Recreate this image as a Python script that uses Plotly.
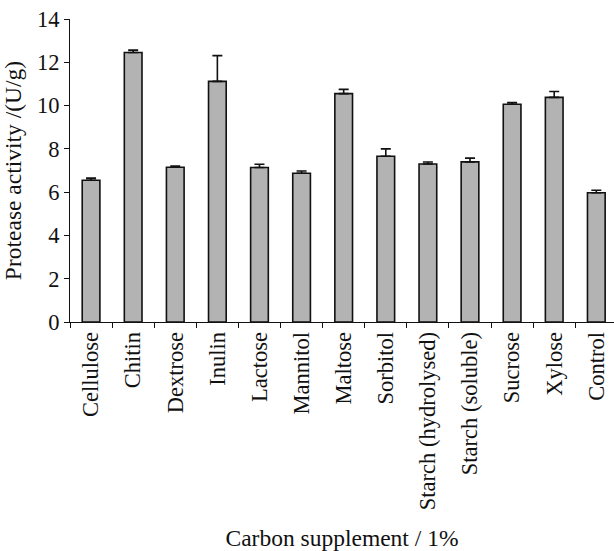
import plotly.graph_objects as go

# Carbon sources tested and mean protease activity (U/g) with upper error
carbon_sources = [
    "Cellulose", "Chitin", "Dextrose", "Inulin", "Lactose", "Mannitol",
    "Maltose", "Sorbitol", "Starch (hydrolysed)", "Starch (soluble)",
    "Sucrose", "Xylose", "Control",
]
activity = [6.55, 12.45, 7.15, 11.12, 7.14, 6.87, 10.55, 7.66, 7.30, 7.40, 10.06, 10.38, 5.97]
error_up = [0.10, 0.11, 0.05, 1.19, 0.15, 0.11, 0.20, 0.34, 0.09, 0.17, 0.08, 0.27, 0.12]

y_ticks = [0, 2, 4, 6, 8, 10, 12, 14]

FONT = "Liberation Serif"

fig = go.Figure(
    go.Bar(
        x=carbon_sources,
        y=activity,
        width=0.42,
        marker=dict(color="#b3b3b3", line=dict(color="#111111", width=1.6)),
        error_y=dict(
            type="data",
            symmetric=False,
            array=error_up,
            arrayminus=[0] * len(error_up),
            color="#111111",
            thickness=1.6,
            width=5,
        ),
    )
)

fig.update_layout(
    width=614,
    height=551,
    margin=dict(l=70, r=0, t=19, b=229),
    paper_bgcolor="white",
    plot_bgcolor="white",
    showlegend=False,
    font=dict(family=FONT, size=22, color="#111111"),
)

fig.update_xaxes(
    type="category",
    range=[-0.5, 12.42],
    automargin=False,
    tickangle=-90,
    tickson="boundaries",
    ticks="outside",
    ticklen=5,
    tickcolor="#111111",
    showline=True,
    linecolor="#111111",
    linewidth=1.2,
    showgrid=False,
    tickfont=dict(family=FONT, size=22.5),
    title=dict(text="Carbon supplement / 1%", font=dict(family=FONT, size=23.5), standoff=28),
)

fig.update_yaxes(
    range=[0, 14],
    automargin=False,
    tickvals=y_ticks,
    ticks="outside",
    ticklen=5,
    tickcolor="#111111",
    showline=True,
    linecolor="#111111",
    linewidth=1.2,
    showgrid=False,
    zeroline=False,
    tickfont=dict(family=FONT, size=22.5),
    title=dict(text="Protease activity /(U/g)", font=dict(family=FONT, size=23.5), standoff=10),
)

fig.write_html("out.html")
